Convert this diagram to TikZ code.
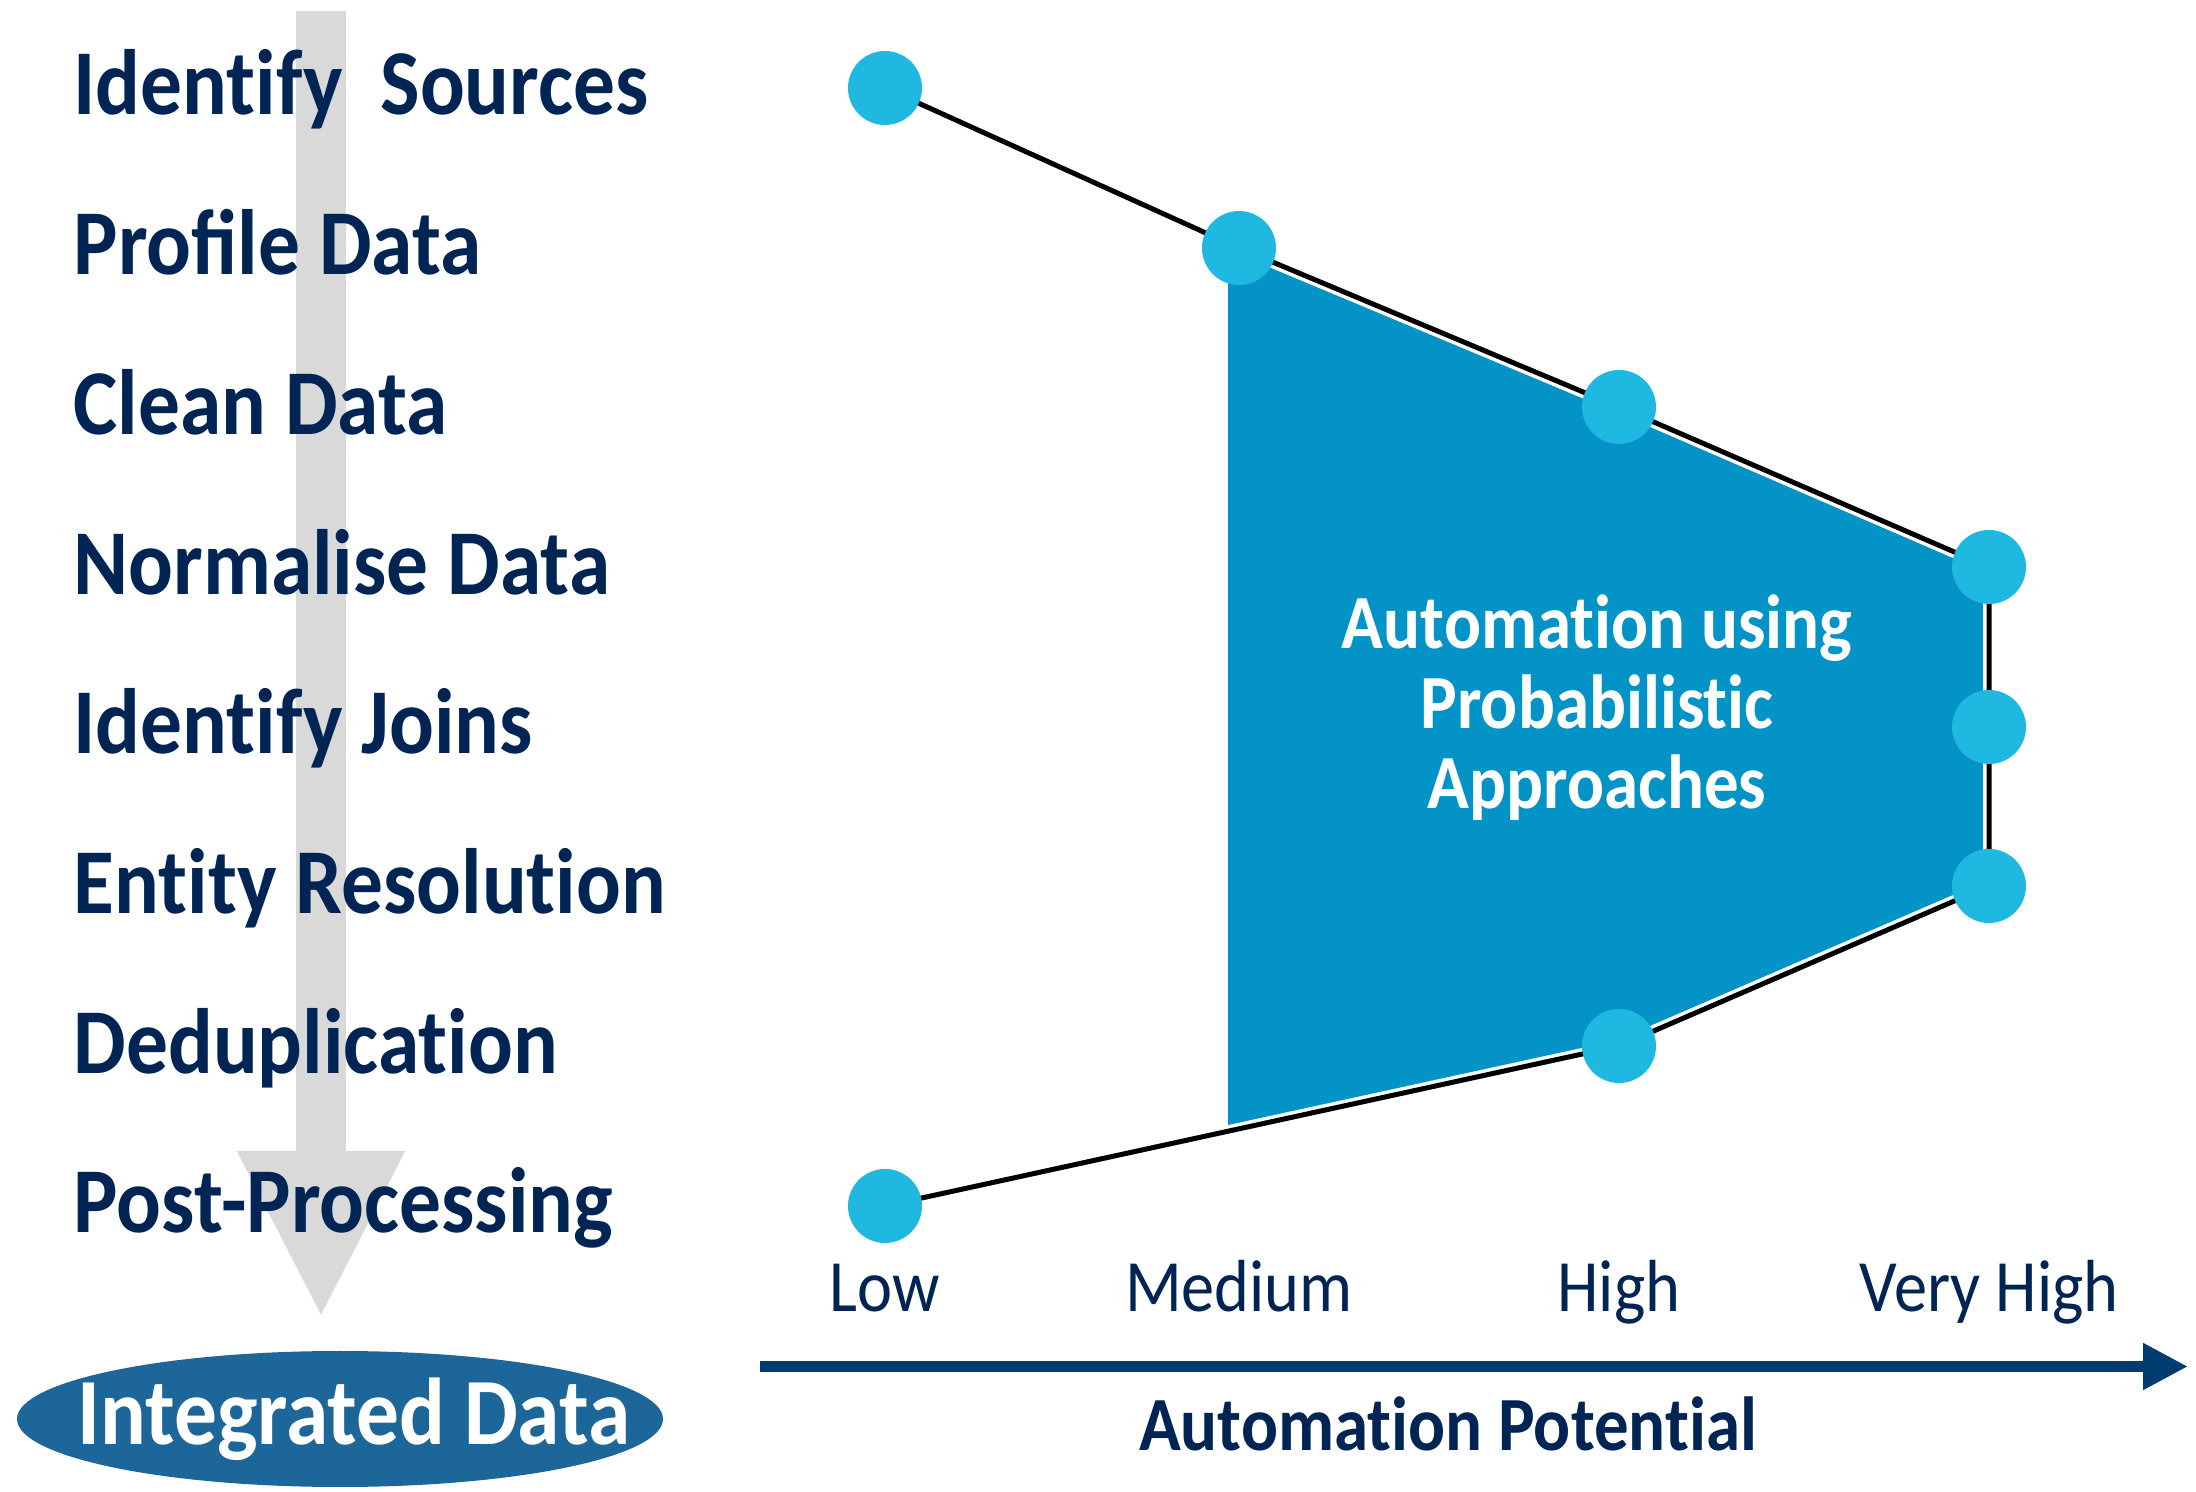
\documentclass[tikz,border=0pt]{standalone}
\usepackage{fontspec}
\setmainfont{Carlito}[FakeStretch=0.9, Ligatures=NoCommon]
\usetikzlibrary{arrows.meta,backgrounds,shapes.geometric}

\definecolor{navytext}{RGB}{0,36,84}
\definecolor{dotblue}{RGB}{31,184,224}
\definecolor{areablue}{RGB}{3,147,198}
\definecolor{ovalblue}{RGB}{28,102,153}
\definecolor{axisblue}{RGB}{0,60,112}
\definecolor{shaftgrey}{RGB}{217,217,217}

\tikzset{
  stage/.style={anchor=base west, inner sep=0pt, text=navytext,
    font=\fontsize{26.4}{28}\selectfont\bfseries},
  level/.style={anchor=base, inner sep=0pt, text=navytext,
    font=\fontsize{21}{24}\selectfont},
  dot/.style={circle, fill=dotblue, minimum size=0.74cm, inner sep=0pt},
  curve/.style={line width=0.05cm, preaction={draw=white, line width=0.12cm}},
}

\begin{document}
\begin{tikzpicture}
\useasboundingbox (0,0) rectangle (21.96,14.92);

% Process steps
\foreach \i/\txt in {0/Identify\ \ Sources, 1/Proﬁle Data, 2/Clean Data,
    3/Normalise Data, 4/Identify Joins, 5/Entity Resolution,
    6/Deduplication, 7/Post-Processing} {
  \node[stage] (task\i) at (0.73, 13.77-1.597*\i) {\txt};
}

% Result
\node[ellipse, fill=ovalblue, minimum width=6.46cm, minimum height=1.36cm,
  inner sep=0pt, label={[xshift=0.14cm, text=white,
    font=\fontsize{27}{30}\selectfont\bfseries]center:Integrated Data}]
  (integrated) at (3.40,0.73) {};

% Automation levels per step
\node[dot] (low1) at (8.85,14.04) {};
\node[dot] (med1) at (12.39,12.44) {};
\node[dot] (high1) at (16.19,10.85) {};
\node[dot] (vhigh1) at (19.89,9.25) {};
\node[dot] (vhigh2) at (19.89,7.65) {};
\node[dot] (vhigh3) at (19.89,6.06) {};
\node[dot] (high2) at (16.19,4.46) {};
\node[dot] (low2) at (8.85,2.86) {};

\node[align=center, text=white, font=\fontsize{21.8}{22.8}\selectfont\bfseries]
  (probab) at (15.97,7.84) {Automation using\\Probabilistic\\Approaches};

\begin{scope}[on background layer]
  % Flow arrow behind the steps
  \draw[shaftgrey, line width=0.5cm, -{Triangle[length=1.68cm, width=1.55cm]}]
    (3.21,14.81) -- (3.21,1.73);

  % Probabilistic area
  \fill[areablue] (12.28,12.49) -- (med1.center) -- (high1.center)
    -- (vhigh1.center) -- (vhigh3.center) -- (high2.center) -- (12.28,4.46) -- cycle;
  \fill[areablue] (12.28,4.46) -- (high2.center) -- (12.28,3.61) -- cycle;

  % Profile line
  \draw[curve] (low1.center) -- (med1.center) -- (high1.center) -- (vhigh1.center)
    -- (vhigh2.center) -- (vhigh3.center) -- (high2.center) -- (low2.center);
\end{scope}

% Axis
\coordinate (axstart) at (7.60,1.255);
\coordinate (axend) at (21.88,1.255);
\draw[axisblue, line width=0.11cm, -{Triangle[length=0.45cm, width=0.44cm]}]
  (axstart) -- (axend);

\foreach \x/\lab [count=\n] in {8.85/Low, 12.39/Medium, 16.19/High, 19.89/Very High} {
  \node[level] (level\n) at (\x,1.80) {\lab};
}
\node[anchor=base, text=navytext, font=\fontsize{21.8}{24}\selectfont\bfseries]
  (potential) at (14.48,0.41) {Automation Potential};

\end{tikzpicture}
\end{document}
